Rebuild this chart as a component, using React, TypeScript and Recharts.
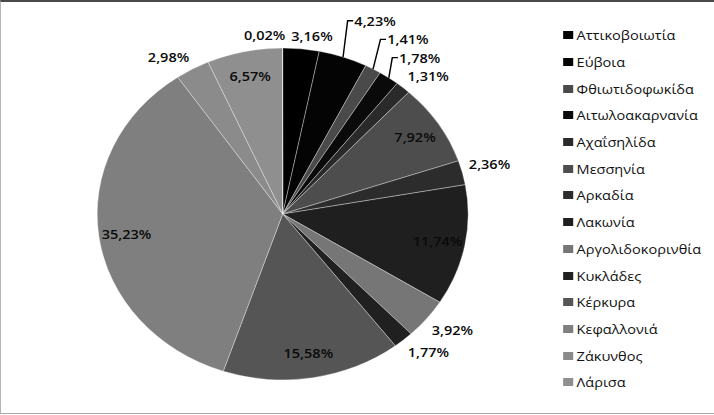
import React from 'react';
import { PieChart, Pie, Cell, Legend } from 'recharts';

// legend names, in slice order (clockwise from 12 o'clock)
const regions = [
  'Αττικοβοιωτία', 'Εύβοια', 'Φθιωτιδοφωκίδα', 'Αιτωλοακαρνανία', 'Αχαΐσηλίδα',
  'Μεσσηνία', 'Αρκαδία', 'Λακωνία', 'Αργολιδοκορινθία', 'Κυκλάδες',
  'Κέρκυρα', 'Κεφαλλονιά', 'Ζάκυνθος', 'Λάρισα',
];
// % shares; the last (0,02%) slice has no entry in the visible legend
const shares = [3.16, 4.23, 1.41, 1.78, 1.31, 7.92, 2.36, 11.74, 3.92, 1.77, 15.58, 35.23, 2.98, 6.57, 0.02];
const greys = [
  '#000000', '#040404', '#4a4a4a', '#0a0a0a', '#2a2a2a',
  '#4d4d4d', '#2c2c2c', '#1f1f1f', '#767676', '#202020',
  '#555555', '#7f7f7f', '#8b8b8b', '#8f8f8f', '#999999',
];

const data = shares.map((v, i) => ({ name: regions[i] ?? '', value: v, fill: greys[i] }));

// the picture is stretched sideways, so draw narrow and scale x
const W = 639;
const H = 415;
const STRETCH = 714 / W;
const CX = 248;
const CY = 209;
const R = 166;
const RAD = Math.PI / 180;

const fmt = (v: number) => v.toFixed(2).replace('.', ',') + '%';
const clamp = (v: number) => Math.max(-1, Math.min(1, v));
const textWidth = (s: string) =>
  [...s].reduce((w, ch) => w + (ch === ',' ? 3.5 : ch === '%' ? 11.2 : 7.45), 0);

type LabelBox = {
  x: number; y: number; hw: number; hh: number;
  dx: number; dy: number; inside: boolean; leader: boolean;
};

let cache: { key: string; boxes: LabelBox[] } | null = null;

function getLayout(cx: number, cy: number, r: number): LabelBox[] {
  const key = `${cx}|${cy}|${r}`;
  if (cache && cache.key === key) return cache.boxes;
  const total = shares.reduce((a, b) => a + b, 0);
  let acc = 0;
  const boxes: LabelBox[] = shares.map((v) => {
    const mid = 90 - (360 * (acc + v / 2)) / total;
    acc += v;
    const dx = Math.cos(mid * RAD);
    const dy = -Math.sin(mid * RAD);
    const hw = textWidth(fmt(v)) / 2;
    const hh = 8.5;
    if (v / total > 0.05) {
      return { x: cx + 0.85 * r * dx, y: cy + 0.85 * r * dy, hw, hh, dx, dy, inside: true, leader: false };
    }
    const q = r + 6;
    return {
      x: cx + q * dx + hw * clamp(5 * dx),
      y: cy + q * dy + 7 * clamp(5 * dy),
      hw, hh, dx, dy, inside: false, leader: false,
    };
  });

  // start with the label at 12 o'clock, then walk counter-clockwise,
  // pushing crowded labels outwards
  const order = [0, ...shares.map((_, i) => shares.length - 1 - i).filter((i) => i !== 0)];
  const placed: LabelBox[] = [];
  const hits = (b: LabelBox) =>
    placed.some((o) => Math.abs(o.x - b.x) < o.hw + b.hw + 5 && Math.abs(o.y - b.y) < o.hh + b.hh + 1);
  for (const i of order) {
    const b = boxes[i];
    if (b.inside) continue;
    const x0 = b.x;
    const y0 = b.y;
    const sideways = Math.abs(b.dx) < 0.15;
    let s = 0;
    while (hits(b) && s < 120) {
      s += 1;
      if (sideways) {
        b.x = x0 + (b.dx < 0 ? -1 : 1) * s;
      } else {
        b.x = x0 + b.dx * s;
        b.y = y0 + b.dy * s;
      }
    }
    b.leader = !sideways && s > 4;
    placed.push(b);
  }
  cache = { key, boxes };
  return boxes;
}

const renderLabel = (p: any) => {
  const r = p.outerRadius;
  const boxes = getLayout(p.cx, p.cy, r);
  const b = boxes[p.index];
  let line = null;
  if (b.leader) {
    const ex = p.cx + r * b.dx;
    const ey = p.cy + r * b.dy;
    const right = b.x > ex;
    const lx = right ? b.x - b.hw - 1 : b.x + b.hw + 1;
    const kx = right ? lx - 5 : lx + 5;
    line = (
      <polyline
        points={`${ex},${ey} ${kx},${b.y} ${lx},${b.y}`}
        fill="none"
        stroke="#000"
        strokeWidth={1.3}
      />
    );
  }
  return (
    <g key={`lbl-${p.index}`}>
      {line}
      <text
        x={b.x}
        y={b.y}
        textAnchor="middle"
        dominantBaseline="central"
        fontFamily='"Open Sans", sans-serif'
        fontWeight={600}
        fontSize={13}
        fill="#0a0a0a"
      >
        {fmt(shares[p.index])}
      </text>
    </g>
  );
};

// legend in slice order; colours come from the pie's own legend payload
const renderLegend = (props: any) => {
  const payload: any[] = props.payload ?? [];
  return (
    <div style={{ fontFamily: '"Open Sans", sans-serif', fontSize: 13, color: '#111' }}>
      {regions.map((name, i) => {
        const hit = payload.find((e) => e.value === name);
        return (
          <div key={name} style={{ height: 26.7, display: 'flex', alignItems: 'center', whiteSpace: 'nowrap' }}>
            <span
              style={{
                display: 'inline-block',
                width: 9,
                height: 8,
                marginRight: 3,
                background: hit?.color ?? greys[i],
              }}
            />
            <span>{name}</span>
          </div>
        );
      })}
    </div>
  );
};

export default function App() {
  return (
    <div style={{ position: 'absolute', left: 0, top: 0, width: 714, height: 415, overflow: 'hidden', background: '#fff' }}>
      <div style={{ position: 'absolute', left: 0, top: 0, width: W, height: H, transform: `scaleX(${STRETCH})`, transformOrigin: '0 0' }}>
        <PieChart width={W} height={H}>
          <Pie
            data={data}
            dataKey="value"
            nameKey="name"
            cx={CX}
            cy={CY}
            outerRadius={R}
            startAngle={90}
            endAngle={-270}
            stroke="rgba(255,255,255,0.4)"
            strokeWidth={0.8}
            label={renderLabel}
            labelLine={false}
            isAnimationActive={false}
          >
            {data.map((d, i) => (
              <Cell key={i} fill={d.fill} />
            ))}
          </Pie>
          <Legend
            content={renderLegend}
            layout="vertical"
            verticalAlign="top"
            align="right"
            wrapperStyle={{ left: 504, top: 22, width: 135 }}
          />
        </PieChart>
      </div>
      <div
        style={{
          position: 'absolute', left: 0, top: 0, width: 714, height: 414, boxSizing: 'border-box',
          borderTop: '2px solid #4a4a4a', borderLeft: '1px solid #b4b4b4', borderBottom: '1px solid #a8a8a8',
          pointerEvents: 'none',
        }}
      />
    </div>
  );
}
